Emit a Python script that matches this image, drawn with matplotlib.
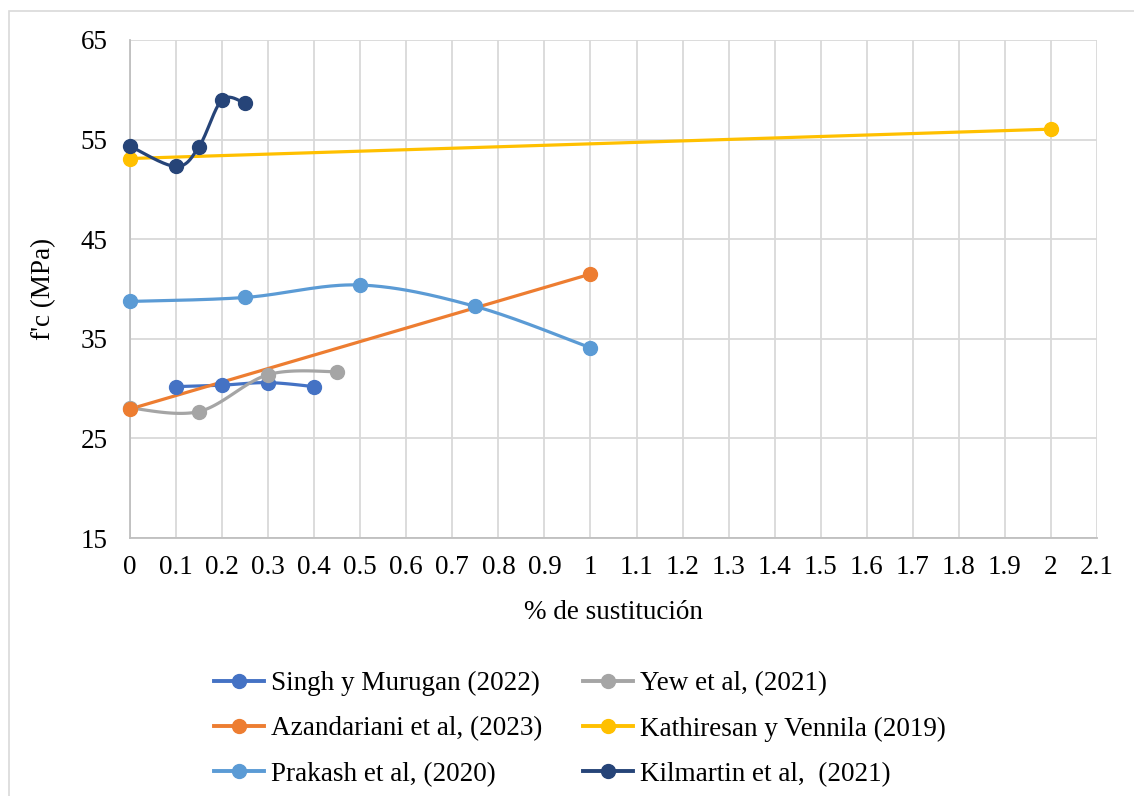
import numpy as np
import matplotlib
matplotlib.use("Agg")
import matplotlib.pyplot as plt
from matplotlib.lines import Line2D
from matplotlib.patches import Rectangle

plt.rcParams['font.family'] = ['Liberation Serif', 'DejaVu Serif']

# % de sustitución vs f'c (MPa)
singh_x = [0.1, 0.2, 0.3, 0.4]
singh_y = [30.2, 30.35, 30.6, 30.2]
yew_x = [0, 0.15, 0.3, 0.45]
yew_y = [28.05, 27.7, 31.4, 31.7]
azan_x = [0, 1]
azan_y = [27.95, 41.5]
kath_x = [0, 2]
kath_y = [53.1, 56.05]
prak_x = [0, 0.25, 0.5, 0.75, 1]
prak_y = [38.75, 39.15, 40.4, 38.25, 34.1]
kilm_x = [0, 0.1, 0.15, 0.2, 0.25]
kilm_y = [54.35, 52.3, 54.3, 59.0, 58.65]

labels = ["Singh y Murugan (2022)", "Yew et al, (2021)", "Azandariani et al, (2023)",
          "Kathiresan y Vennila (2019)", "Prakash et al, (2020)", "Kilmartin et al,  (2021)"]
colors = ["#4472C4", "#A5A5A5", "#ED7D31", "#FFC000", "#5B9BD5", "#264478"]
series = [(singh_x, singh_y), (yew_x, yew_y), (azan_x, azan_y),
          (kath_x, kath_y), (prak_x, prak_y), (kilm_x, kilm_y)]

FS = 19.5


def smooth(x, y, n=40):
    # bezier smoothing through the points (catmull-rom style control points)
    p = np.column_stack([x, y]).astype(float)
    if len(p) < 3:
        return p[:, 0], p[:, 1]
    pts = []
    for i in range(len(p) - 1):
        p0 = p[i - 1] if i > 0 else p[i]
        p1, p2 = p[i], p[i + 1]
        p3 = p[i + 2] if i + 2 < len(p) else p[i + 1]
        c1 = p1 + (p2 - p0) / 6
        c2 = p2 - (p3 - p1) / 6
        t = np.linspace(0, 1, n)[:, None]
        seg = ((1 - t) ** 3) * p1 + 3 * ((1 - t) ** 2) * t * c1 + 3 * (1 - t) * t ** 2 * c2 + t ** 3 * p2
        pts.append(seg if i == 0 else seg[1:])
    pts = np.vstack(pts)
    return pts[:, 0], pts[:, 1]


fig = plt.figure(figsize=(11.34, 7.96), dpi=100)
ax = fig.add_axes([130 / 1134, 1 - 538 / 796, (1097 - 130) / 1134, (538 - 40) / 796])

for (x, y), c in zip(series, colors):
    sx, sy = smooth(x, y)
    ax.plot(sx, sy, color=c, lw=2.3, zorder=2, solid_capstyle='round', clip_on=False)
for (x, y), c in zip(series, colors):
    ax.plot(x, y, 'o', color=c, ms=10, zorder=3, clip_on=False)

ax.set_xlim(0, 2.1)
ax.set_ylim(15, 65)
ax.set_xticks(np.arange(0, 2.11, 0.1))
ax.set_xticklabels(["0" if i == 0 else ("%g" % round(i * 0.1, 1)) for i in range(22)])
ax.set_yticks([15, 25, 35, 45, 55, 65])
ax.grid(True, color="#D9D9D9", lw=1.3)
ax.set_axisbelow(True)
for s in ["top", "right"]:
    ax.spines[s].set_visible(False)
for s in ["left", "bottom"]:
    ax.spines[s].set_color("#BFBFBF")
    ax.spines[s].set_linewidth(1.3)
ax.tick_params(length=0, labelsize=FS, colors="black")
ax.tick_params(axis='x', pad=12)
ax.tick_params(axis='y', pad=16)
ax.set_xlabel("% de sustitución", fontsize=FS, labelpad=14.5)
ax.set_ylabel("f'c (MPa)", fontsize=FS, labelpad=18)

handles = [Line2D([], [], color=c, lw=2.8, marker='o', ms=10) for c in colors]
order = [0, 2, 4, 1, 3, 5]
fig.legend([handles[i] for i in order], [labels[i] for i in order],
           loc='center', bbox_to_anchor=(580 / 1134, 1 - 729 / 796), ncol=2,
           frameon=False, fontsize=FS, handlelength=1.85, handletextpad=0.26,
           columnspacing=1.5, labelspacing=0.75, numpoints=1)

# chart border
fig.patches.append(Rectangle((9 / 1134, -0.05), 1.1, 1.05 - 11 / 796, transform=fig.transFigure,
                             fill=False, edgecolor="#D9D9D9", lw=1.2))

fig.savefig("out.png", dpi=100)
